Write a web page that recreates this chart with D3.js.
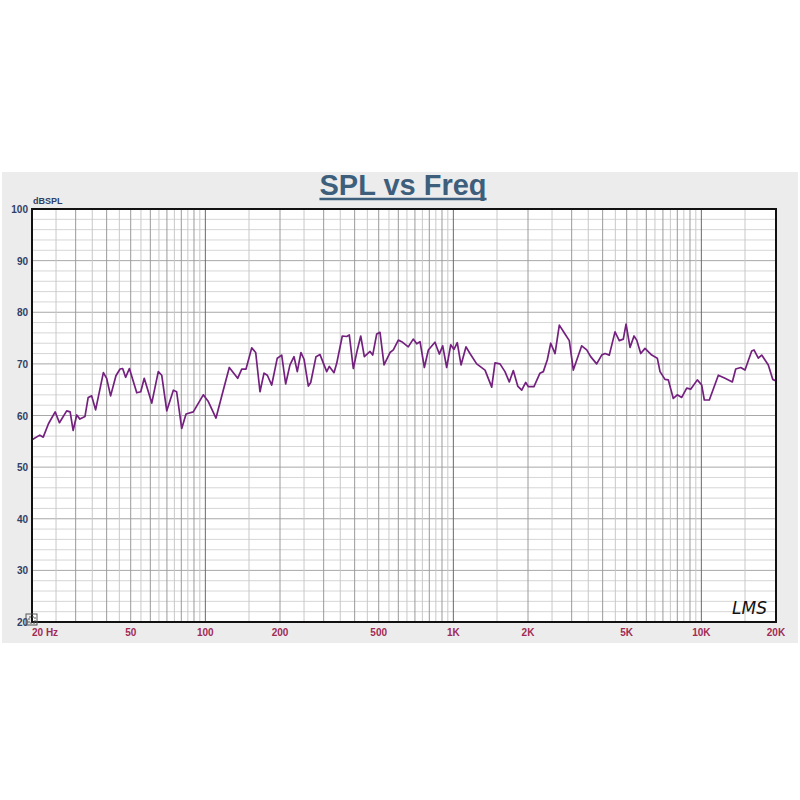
<!DOCTYPE html>
<html><head><meta charset="utf-8">
<script src="https://cdn.jsdelivr.net/npm/d3@7"></script>
<style>body{margin:0;background:#fff}svg{display:block}</style>
</head><body>
<svg id="c" width="800" height="800"></svg>
<script>
const title = "SPL vs Freq";
const yUnit = "dBSPL";
const freq = [20,21.5,22.2,23.3,24.8,25.8,27.6,28.5,29.3,30.3,31.2,32.7,33.7,34.8,36.1,38.8,40.0,41.5,43.6,45.3,46.4,47.7,49.4,52.9,54.9,56.7,60.8,64.6,66.7,69.9,74.3,76.6,80.3,83.6,89.4,98.1,
102.8,110.4,118.1,124.9,135.0,140.2,145.9,153.8,159.6,166.1,172.4,177.8,185.2,195.0,203.2,210.8,219.4,227.8,234.8,243.0,250.0,260.2,266.0,279.4,290.0,308.6,316.2,330.2,338.6,356.6,371.6,380.6,395.0,410.0,423.2,437.6,461.4,473.0,491.0,506.2,525.4,555.4,572.8,
600,619,658,689,712,734,764,793,843,878,906,940,976,1006,1037,1074,1125,1167,1242,1342,1428,1472,1542,1615,1681,1745,1818,1887,1958,2006,2114,2235,2306,2393,2470,2571,2675,2820,2935,3046,
3293,3450,3578,3784,3964,4088,4254,4486,4668,4846,4970,5158,5352,5488,5696,5928,6308,6644,6814,7136,7358,7708,7998,8334,8730,9058,9632,10034,10280,10768,11708,12458,13332,13760,14414,14998,15960,16306,16968,17512,18620,19400,20000];
const spl = [55.3,56.2,55.8,58.4,60.7,58.6,60.9,60.7,57.1,60.1,59.3,59.8,63.5,63.8,61.1,68.3,67.2,63.8,67.7,69.0,69.1,67.4,69.1,64.4,64.6,67.2,62.4,68.5,67.8,60.9,64.9,64.6,57.5,60.3,60.7,64.0,
62.7,59.5,64.9,69.3,67.2,69.0,69.0,73.1,72.2,64.6,68.2,67.8,65.9,71.1,71.7,66.1,69.8,71.4,68.5,72.2,70.9,65.7,66.4,71.4,71.8,68.5,69.5,68.3,70.1,75.4,75.3,75.6,69.1,72.7,75.4,71.4,72.4,71.7,75.8,76.1,69.8,72.2,72.7,
74.6,74.3,73.3,74.8,73.9,74.3,69.3,72.7,74.2,71.9,73.5,69.3,73.7,72.8,74.1,69.8,73.3,72.0,70.0,68.8,65.5,70.2,70.0,68.5,66.5,68.7,65.7,64.9,66.4,65.6,65.6,68.2,68.5,70.8,74.0,72.0,77.5,75.8,74.5,68.8,
73.5,72.7,71.4,70.0,71.7,72.0,71.7,76.2,74.5,74.8,77.7,73.2,75.4,74.6,72.0,73.0,71.7,71.1,68.5,67.0,66.9,63.3,64.0,63.5,65.3,65.1,66.9,65.9,63.0,63.0,67.8,67.2,66.5,69.0,69.3,68.8,72.5,72.7,71.1,71.7,69.8,67.0,66.7];
const yTicks = [20,30,40,50,60,70,80,90,100];
const xTicks = [20,50,100,200,500,1000,2000,5000,10000,20000];
const xTickLabels = ["20 Hz","50","100","200","500","1K","2K","5K","10K","20K"];

const svg = d3.select("#c");
const L = 32, R = 776, T = 209, B = 622;
const x = d3.scaleLog().domain([20,20000]).range([L,R]);
const y = d3.scaleLinear().domain([20,100]).range([B,T]);

// grey panel
svg.append("rect").attr("x",2).attr("y",172).attr("width",796).attr("height",471).attr("fill","#ececec");
svg.append("rect").attr("x",L).attr("y",T).attr("width",R-L).attr("height",B-T).attr("fill","#fff");

// horizontal grid
const g = svg.append("g");
for (let v = 22; v < 100; v += 2) {
  g.append("line").attr("x1",L).attr("x2",R).attr("y1",y(v)).attr("y2",y(v))
    .attr("stroke", v % 10 === 0 ? "#a8a8a8" : "#d6d6d6").attr("stroke-width",1);
}
// vertical grid
const vLines = [];
[[20,100,5],[100,200,50],[200,1000,50],[1000,2000,500],[2000,10000,500],[10000,20000,5000]].forEach(([a,b,s])=>{
  for (let f = a + s; f < b + 0.001; f += s) vLines.push(f);
});
vLines.filter(f=>f<20000).forEach(f=>{
  const dec = Math.pow(10, Math.floor(Math.log10(f)+1e-9));
  const m = f/dec;
  const isDec = Math.abs(m-1) < 1e-6;
  const isInt = Math.abs(m-Math.round(m)) < 1e-6;
  g.append("line").attr("x1",x(f)).attr("x2",x(f)).attr("y1",T).attr("y2",B)
    .attr("stroke", isDec ? "#6a6a6a" : (isInt ? "#9a9a9a" : "#c8c8c8")).attr("stroke-width",1);
});

// curve
const line = d3.line().x((d,i)=>x(freq[i])).y(d=>y(d));
svg.append("path").datum(spl).attr("d",line).attr("fill","none")
  .attr("stroke","#74207f").attr("stroke-width",1.7).attr("stroke-linejoin","round");

// border
svg.append("rect").attr("x",L).attr("y",T).attr("width",R-L).attr("height",B-T)
  .attr("fill","none").attr("stroke","#111").attr("stroke-width",2);

// y labels
svg.selectAll(".yl").data(yTicks).enter().append("text")
  .attr("x",28).attr("y",d=>y(d)+4).attr("text-anchor","end")
  .attr("font-family","Liberation Sans, Arial, sans-serif").attr("font-size",10).attr("font-weight","bold")
  .attr("fill","#2f3f66").text(d=>d);
svg.append("text").attr("x",33).attr("y",204).attr("font-family","Liberation Sans, Arial, sans-serif")
  .attr("font-size",9).attr("font-weight","bold").attr("fill","#2f3f66").text(yUnit);

// x labels
svg.selectAll(".xl").data(xTicks).enter().append("text")
  .attr("x",(d,i)=> i===0 ? x(d) : x(d)).attr("y",636)
  .attr("text-anchor",(d,i)=> i===0 ? "start" : "middle")
  .attr("font-family","Liberation Sans, Arial, sans-serif").attr("font-size",10).attr("font-weight","bold")
  .attr("fill","#a12a55").text((d,i)=>xTickLabels[i]);

// corner icon
svg.append("rect").attr("x",26).attr("y",614).attr("width",11).attr("height",11).attr("fill","none").attr("stroke","#555").attr("stroke-width",1);
svg.append("rect").attr("x",29).attr("y",617).attr("width",6).attr("height",6).attr("fill","none").attr("stroke","#555").attr("stroke-width",1).attr("stroke-dasharray","2,1");

// title
const tt = svg.append("text").attr("x",403).attr("y",195).attr("text-anchor","middle")
  .attr("font-family","Liberation Sans, Arial, sans-serif").attr("font-size",29).attr("font-weight","bold")
  .attr("fill","#3e5f7c").text(title);
const bb = tt.node().getBBox();
svg.append("line").attr("x1",bb.x).attr("x2",bb.x+bb.width).attr("y1",199).attr("y2",199)
  .attr("stroke","#3e5f7c").attr("stroke-width",2.5);

// logo
svg.append("text").attr("x",732).attr("y",614).attr("font-family","DejaVu Sans, sans-serif")
  .attr("font-style","italic").attr("font-size",17).attr("fill","#111").text("LMS");
</script>
</body></html>
